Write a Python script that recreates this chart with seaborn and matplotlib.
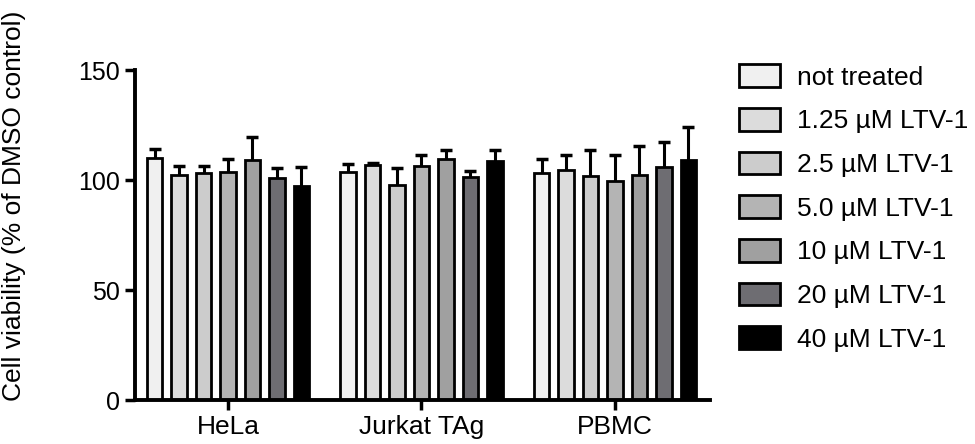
import numpy as np
import pandas as pd
import seaborn as sns
import matplotlib.pyplot as plt

# valores (media y desviación)
cell_lines = ["HeLa", "Jurkat TAg", "PBMC"]
treatments = ["not treated", "1.25 µM LTV-1", "2.5 µM LTV-1", "5.0 µM LTV-1",
              "10 µM LTV-1", "20 µM LTV-1", "40 µM LTV-1"]
hela_mean = [110.1, 102.1, 103.3, 103.6, 109.0, 101.0, 97.4]
jurkat_mean = [103.6, 106.8, 98.0, 106.5, 109.8, 101.5, 108.5]
pbmc_mean = [103.1, 104.5, 101.8, 99.5, 102.4, 106.0, 109.3]
hela_sd = [4.2, 4.2, 3.2, 6.0, 10.8, 4.7, 8.5]
jurkat_sd = [3.9, 0.9, 7.5, 4.8, 3.7, 2.7, 5.2]
pbmc_sd = [6.5, 7.0, 11.8, 11.7, 13.0, 11.5, 14.9]
colors = ["#f0f0f0", "#dcdcdc", "#cccccc", "#b4b4b4", "#a0a0a0", "#6e6d72", "#000000"]

means = {"HeLa": hela_mean, "Jurkat TAg": jurkat_mean, "PBMC": pbmc_mean}
sds = {"HeLa": hela_sd, "Jurkat TAg": jurkat_sd, "PBMC": pbmc_sd}

rows = []
for cl in cell_lines:
    for i, t in enumerate(treatments):
        rows.append({"cell": cl, "treat": t, "mean": means[cl][i], "sd": sds[cl][i]})
df = pd.DataFrame(rows)

sns.set_style("ticks")
plt.rcParams["font.family"] = ["Liberation Sans", "DejaVu Sans"]
plt.rcParams["text.color"] = "black"
plt.rcParams["axes.labelcolor"] = "black"
plt.rcParams["xtick.color"] = "black"
plt.rcParams["ytick.color"] = "black"

fig = plt.figure(figsize=(9.75, 4.44), dpi=100)
ax = fig.add_axes([0.138, 0.099, 0.59, 0.743])

sns.barplot(data=df, x="cell", y="mean", hue="treat", order=cell_lines,
            hue_order=treatments, palette=colors, width=0.886, gap=0.38,
            errorbar=None, edgecolor="black", linewidth=2.0, saturation=1,
            ax=ax, zorder=2)

# barras de error (la parte inferior queda oculta detrás de la barra)
for t, cont in zip(treatments, ax.containers):
    for cl, bar in zip(cell_lines, cont):
        sd = df[(df.cell == cl) & (df.treat == t)]["sd"].iloc[0]
        x = bar.get_x() + bar.get_width() / 2
        ax.errorbar(x, bar.get_height(), yerr=sd, color="black", elinewidth=2.2,
                    capsize=4.5, capthick=2.5, zorder=1)

ax.set_ylim(0, 150)
ax.set_xlim(-0.483, 2.49)
ax.set_yticks([0, 50, 100, 150])
ax.set_xlabel("")
ax.set_ylabel("Cell viability (% of DMSO control)", fontsize=19)
ax.yaxis.set_label_coords(-0.188, 0.59)
sns.despine(ax=ax)
for s in ["left", "bottom"]:
    ax.spines[s].set_linewidth(2.8)
    ax.spines[s].set_color("black")
ax.tick_params(axis="both", width=2.5, length=7.5, pad=3, color="black",
               labelcolor="black")
ax.tick_params(axis="y", labelsize=18)
ax.tick_params(axis="x", labelsize=19)

leg = ax.legend(loc="upper left", bbox_to_anchor=(0.758, 0.855),
                bbox_transform=fig.transFigure, frameon=False, fontsize=19,
                handlelength=1.55, handleheight=0.95, handletextpad=0.65,
                labelspacing=0.69, borderpad=0, borderaxespad=0)
for h in leg.legend_handles:
    h.set_edgecolor("black")
    h.set_linewidth(2.0)

fig.savefig("out.png", dpi=100)
